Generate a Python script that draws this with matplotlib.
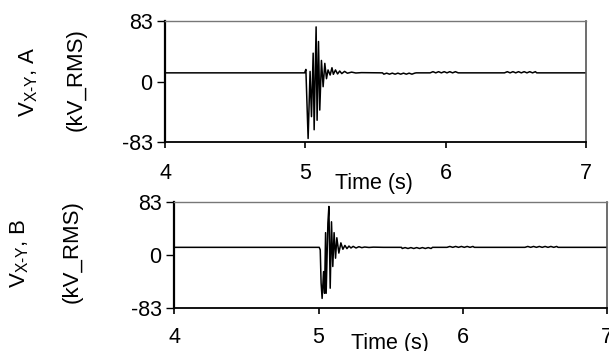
import matplotlib.pyplot as plt

plt.rcParams['font.family'] = ['Liberation Sans', 'DejaVu Sans']
plt.rcParams['mathtext.fontset'] = 'custom'
plt.rcParams['mathtext.rm'] = 'Liberation Sans'

# panel A: phase-to-phase voltage (kV_RMS) vs time (s)
tA = [4.0, 4.995, 5.004, 5.020, 5.034, 5.044, 5.056, 5.063, 5.077, 5.084,
      5.094, 5.103, 5.115, 5.127, 5.139, 5.151, 5.162, 5.177, 5.19, 5.20,
      5.215, 5.23, 5.245, 5.26, 5.28, 5.30, 5.33, 5.36, 5.40, 5.55,
      5.56, 5.58, 5.60, 5.62, 5.64, 5.66, 5.68, 5.70, 5.72, 5.74, 5.76, 5.78, 5.79,
      5.89, 5.91, 5.93, 5.95, 5.97, 5.99, 6.01, 6.03, 6.05, 6.07, 6.09,
      6.42, 6.44, 6.46, 6.48, 6.50, 6.52, 6.54, 6.56, 6.58, 6.60, 6.62, 6.64, 6.65,
      7.0]
vA = [12, 12, 16.7, -78, 14, -48, 39, -66, 75, -53,
      55, -39, 29, -7, 25, 4, 16, 9, 19, 10,
      16, 10.5, 14.5, 11, 14, 11.5, 13, 11.8, 12.3, 12,
      10.2, 11.6, 10.2, 11.6, 10.2, 11.6, 10.2, 11.6, 10.2, 11.6, 10.2, 11.6, 12,
      12, 13.6, 12, 13.6, 12, 13.6, 12, 13.6, 12, 13.6, 12,
      12, 13.6, 12, 13.6, 12, 13.6, 12, 13.6, 12, 13.6, 12, 13.6, 12,
      12]

# panel B
tB = [4.0, 5.005, 5.012, 5.018, 5.025, 5.035, 5.042, 5.049, 5.053, 5.065,
      5.072, 5.081, 5.090, 5.099, 5.108, 5.118, 5.127, 5.141, 5.155, 5.169,
      5.183, 5.197, 5.211, 5.225, 5.24, 5.26, 5.28, 5.30, 5.32, 5.35, 5.38, 5.45, 5.575,
      5.58, 5.60, 5.62, 5.64, 5.66, 5.68, 5.70, 5.72, 5.74, 5.76, 5.78, 5.79,
      5.89, 5.91, 5.93, 5.95, 5.97, 5.99, 6.01, 6.03, 6.05, 6.07, 6.08,
      6.43, 6.45, 6.47, 6.49, 6.51, 6.53, 6.55, 6.57, 6.59, 6.61, 6.63, 6.65, 6.66,
      7.0]
vB = [12, 12, 8, -44, -68, -26, -60, 35, -60, 50,
      76, -52, 52, -18, 35, -5, 27, 3, 19, 9,
      15, 10, 14, 11, 13.5, 11, 13, 11.5, 12.5, 11.8, 12.3, 12, 12,
      10.2, 11.6, 10.2, 11.6, 10.2, 11.6, 10.2, 11.6, 10.2, 11.6, 10.2, 12,
      12, 13.4, 12, 13.4, 12, 13.4, 12, 13.4, 12, 13.4, 12,
      12, 13.4, 12, 13.4, 12, 13.4, 12, 13.4, 12, 13.4, 12, 13.4, 12,
      12]

yticks = [-83, 0, 83]
xticks = [4, 5, 6, 7]
fs = 15.5

fig = plt.figure(figsize=(6.09, 3.51), dpi=100)
axA = fig.add_axes([0.271, 0.595, 0.691, 0.345])
axB = fig.add_axes([0.286, 0.1225, 0.711, 0.302])


def style(ax, t, v, xpad):
    ax.plot(t, v, color='black', lw=1.1)
    ax.set_xlim(4, 7)
    ax.set_ylim(-83, 83)
    ax.set_xticks(xticks)
    ax.set_yticks(yticks)
    ax.set_yticklabels(['-83', '0', '83'])
    ax.tick_params(axis='y', direction='out', length=6, width=1, labelsize=fs, pad=3)
    ax.tick_params(axis='x', direction='out', length=4, width=1.2, labelsize=fs, pad=xpad)
    ax.spines['left'].set_linewidth(1.6)
    ax.spines['bottom'].set_linewidth(1.3)
    ax.spines['top'].set_color('#777777')
    ax.spines['right'].set_color('#555555')
    ax.spines['top'].set_linewidth(1.0)
    ax.spines['right'].set_linewidth(1.2)


style(axA, tA, vA, 11)
style(axB, tB, vB, 10)

fig.text(374 / 609, 1 - 183 / 351, 'Time (s)', fontsize=fs, ha='center', va='center')
fig.text(390 / 609, 1 - 344 / 351, 'Time (s)', fontsize=fs, ha='center', va='center')

fig.text(29 / 609, 1 - 82 / 351, r'V$_{\mathregular{X\text{-}Y}}$, A', fontsize=16,
         rotation=90, ha='center', va='center')
fig.text(76 / 609, 1 - 80 / 351, '(kV_RMS)', fontsize=16, rotation=90, ha='center', va='center')
fig.text(20 / 609, 1 - 253 / 351, r'V$_{\mathregular{X\text{-}Y}}$, B', fontsize=16,
         rotation=90, ha='center', va='center')
fig.text(72 / 609, 1 - 252 / 351, '(kV_RMS)', fontsize=16, rotation=90, ha='center', va='center')

fig.savefig('out.png', dpi=100)
